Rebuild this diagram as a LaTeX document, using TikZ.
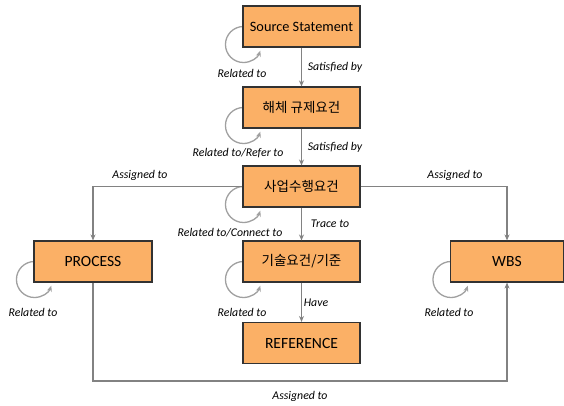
\documentclass[tikz,border=0pt]{standalone}
\usepackage{fontspec}
\setmainfont{Carlito}
\newfontfamily\kr{Noto Sans CJK KR}
\usetikzlibrary{arrows.meta,calc}
\definecolor{boxfill}{RGB}{251,176,102}
\definecolor{boxline}{RGB}{50,50,50}
\definecolor{conn}{RGB}{130,130,130}
\definecolor{loopc}{RGB}{160,160,160}
\tikzset{
  ent/.style={draw=boxline, line width=1.1pt, fill=boxfill, minimum height=41pt, inner sep=0pt, font=\fontsize{14.3}{16}\selectfont},
  capsfont/.style={font=\fontsize{15.6}{17}\selectfont},
  krfont/.style={font=\kr\fontsize{13.5}{15}\selectfont},
  link/.style={draw=conn, line width=1.2pt, -{Stealth[length=6pt,width=5pt]}},
  lbl/.style={font=\fontsize{11.8}{13}\selectfont\itshape, inner sep=0pt},
  selfloop/.style={draw=loopc, line width=1.3pt, -{Stealth[length=6pt,width=5pt]}}
}
\newcommand{\loopat}[1]{%
  \draw[selfloop] ($(#1.west)+(1,0)$) arc[start angle=90, end angle=340, radius=18pt];}
\begin{document}
\begin{tikzpicture}[x=1pt,y=1pt]
\useasboundingbox (0,0) rectangle (564,-405);
% placeholders for loops (drawn behind the boxes)
\path
  (301.5,-26.5) node[ent, minimum width=117pt, draw=none, fill=none] (src) {}
  (301.5,-107.5) node[ent, minimum width=117pt, draw=none, fill=none] (req) {}
  (301.5,-186.5) node[ent, minimum width=117pt, draw=none, fill=none] (biz) {}
  (301.5,-261.5) node[ent, minimum width=117pt, draw=none, fill=none] (tech) {}
  (93,-261.5) node[ent, minimum width=118pt, draw=none, fill=none] (proc) {}
  (507,-261.5) node[ent, minimum width=113pt, draw=none, fill=none] (wbs) {};
\loopat{src}
\loopat{req}
\loopat{biz}
\loopat{tech}
\loopat{proc}
\loopat{wbs}
% boxes
\node[ent, minimum width=117pt] (srcb) at (src) {Source Statement};
\node[ent, krfont, minimum width=117pt] (reqb) at (req) {해체 규제요건};
\node[ent, krfont, minimum width=117pt] (bizb) at (biz) {사업수행요건};
\node[ent, krfont, minimum width=117pt] (techb) at (tech) {기술요건/기준};
\node[ent, capsfont, minimum width=117pt] (refb) at (301.5,-343) {REFERENCE};
\node[ent, capsfont, minimum width=118pt] (procb) at (proc) {PROCESS};
\node[ent, capsfont, minimum width=113pt] (wbsb) at (wbs) {WBS};
% connectors
\draw[link] (srcb.south) -- (reqb.north);
\draw[link] (reqb.south) -- (bizb.north);
\draw[link] (bizb.south) -- (techb.north);
\draw[link] (techb.south) -- (refb.north);
\draw[link] (bizb.west) -| (procb.north);
\draw[link] (bizb.east) -| (wbsb.north);
\coordinate (bl) at ($(procb.south)+(0,-98.5)$);
\draw[link] (procb.south) -- (bl) -| (wbsb.south);
% labels
\node[lbl] (l1) at (335,-67) {Satisfied\ by};
\node[lbl] (l2) at (335,-147) {Satisfied\ by};
\node[lbl] (l3) at (330,-224) {Trace to};
\node[lbl] (l4) at (316,-303) {Have};
\node[lbl] (l5) at (140,-175) {Assigned to};
\node[lbl] (l6) at (455,-175) {Assigned to};
\node[lbl] (l7) at (300,-396) {Assigned to};
\node[lbl] (r1) at (242,-73) {Related to};
\node[lbl] (r2) at (238,-153) {Related to/Refer to};
\node[lbl] (r3) at (230,-233) {Related to/Connect to};
\node[lbl] (r4) at (242,-312) {Related to};
\node[lbl] (r5) at (33,-312) {Related to};
\node[lbl] (r6) at (449,-312) {Related to};
\end{tikzpicture}
\end{document}
